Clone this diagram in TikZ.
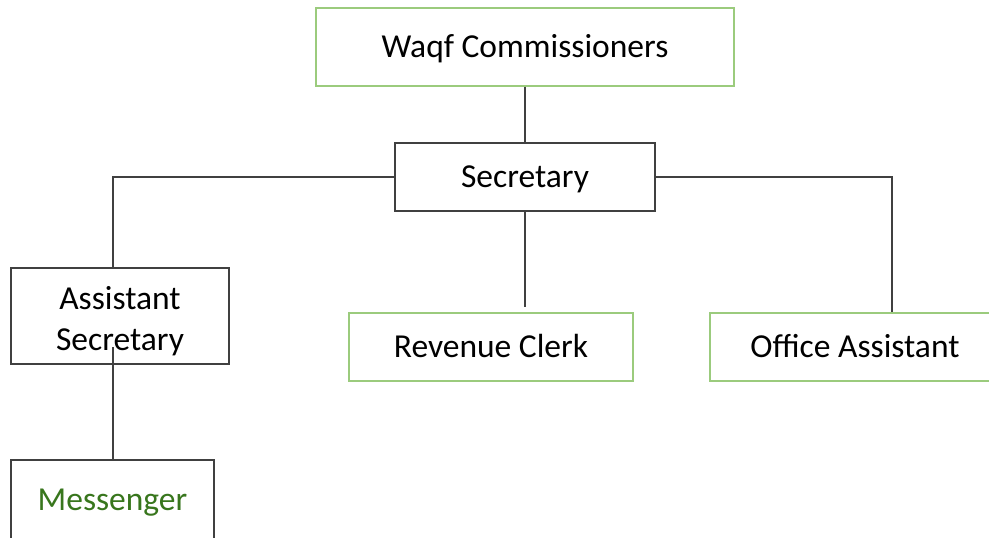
\documentclass[tikz,border=0pt]{standalone}
\usepackage{fontspec}
\setmainfont{Carlito}
\usepackage{tikz}
\usetikzlibrary{positioning,calc}
\definecolor{boxgreen}{RGB}{155,203,125}
\definecolor{textgreen}{RGB}{56,118,29}
\definecolor{linegray}{RGB}{64,64,64}

\begin{document}
\begin{tikzpicture}[
x=1pt,y=-1pt,
GreenBox/.style={draw=boxgreen,line width=1.3pt,fill=white,rectangle,inner sep=0pt,text height=24pt,text depth=2.4pt},
BlackBox/.style={draw=linegray,line width=1.3pt,fill=white,rectangle,inner sep=0pt,text height=24pt,text depth=2.4pt},
Links/.style={draw=linegray,line width=1.3pt},
every node/.style={font=\fontsize{33.5}{41}\selectfont}
]
\useasboundingbox (0,0) rectangle (989,538);
\clip (0,0) rectangle (989,538);

% free ends of the lines that do not meet a box edge
\coordinate (asmid) at (113,347);
\coordinate (revend) at (525,307);
\coordinate (offdrop) at (892,313);

\node[GreenBox,minimum width=418pt,minimum height=78pt] (wc) at (525,47) {Waqf Commissioners};
\node[BlackBox,minimum width=260pt,minimum height=68pt] (sec) at (525,177) {Secretary};
\node[BlackBox,minimum width=218pt,minimum height=96pt,align=center,text height=71pt,text depth=2.4pt] (asst) at (120,316) {Assistant\\Secretary};
\node[GreenBox,minimum width=284pt,minimum height=68pt] (rev) at (491,347) {Revenue Clerk};
\node[GreenBox,minimum width=290pt,minimum height=68pt] (off) at (855,347) {Office Assistant};
\node[BlackBox,minimum width=203pt,minimum height=80pt,text=textgreen] (msg) at (112.5,500) {Messenger};

\draw[Links] (wc.south) -- (sec.north);
\draw[Links] (sec.west) -| (asmid |- asst.north);
\draw[Links] (sec.east) -| (offdrop |- off.north);
\draw[Links] (sec.south) -- (revend);
\draw[Links] (asmid) -- (asmid |- msg.north);

\end{tikzpicture}
\end{document}
